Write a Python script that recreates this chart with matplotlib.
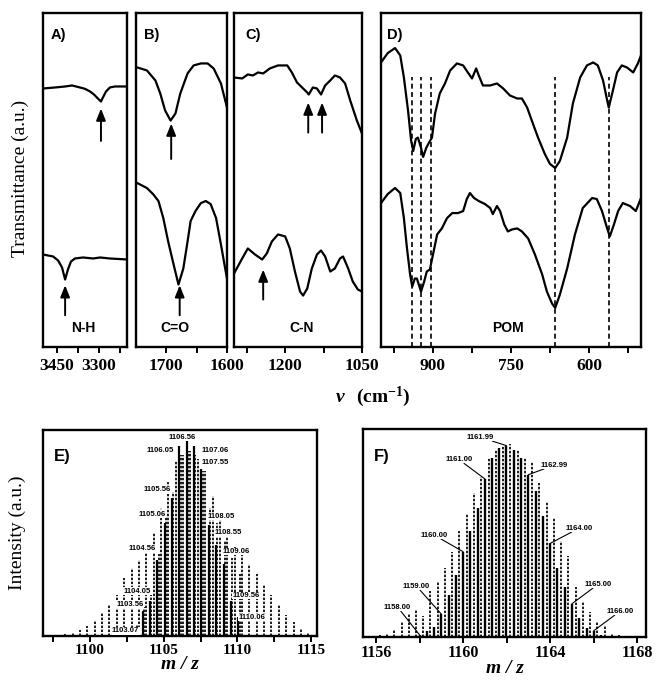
import matplotlib
matplotlib.use('Agg')
import matplotlib.pyplot as plt

plt.rcParams['mathtext.fontset'] = 'custom'
plt.rcParams['mathtext.rm'] = 'Liberation Serif:bold'
plt.rcParams['mathtext.it'] = 'Liberation Serif:italic:bold'

SERIF = 'Liberation Serif'
SANS = 'Liberation Sans'

# ---------------- IR spectra (wavenumber, transmittance a.u.) ----------------
a_wn_top = [3500, 3457, 3421, 3396, 3368, 3350, 3332, 3318, 3304, 3293, 3286, 3275, 3261, 3243, 3200]
a_t_top = [77.4, 77.7, 78.0, 78.3, 77.7, 77.3, 76.5, 75.6, 74.4, 73.5, 74.7, 76.5, 77.7, 78.0, 78.0]
a_wn_bot = [3500, 3464, 3446, 3432, 3421, 3411, 3400, 3386, 3357, 3321, 3296, 3261, 3200]
a_t_bot = [27.7, 27.1, 25.9, 23.8, 20.2, 23.2, 25.6, 26.5, 26.8, 26.5, 26.8, 26.5, 26.2]

b_wn_top = [1748, 1732, 1718, 1710, 1702, 1693, 1685, 1677, 1665, 1655, 1643, 1632, 1622, 1610, 1600]
b_t_top = [83.7, 82.8, 79.8, 75.9, 70.8, 67.8, 69.9, 75.9, 81.9, 84.3, 84.9, 84.9, 83.4, 78.9, 71.7]
b_wn_bot = [1748, 1732, 1722, 1713, 1705, 1697, 1688, 1680, 1672, 1665, 1660, 1652, 1643, 1635,
            1627, 1618, 1610, 1603, 1600]
b_t_bot = [49.1, 47.6, 45.8, 43.7, 38.6, 31.6, 24.7, 18.7, 23.5, 31.6, 37.7, 40.7, 43.1, 43.7,
           42.8, 38.6, 30.7, 23.5, 20.5]

c_wn_top = [1300, 1284, 1273, 1263, 1253, 1243, 1230, 1214, 1196, 1187, 1177, 1167, 1157, 1154,
            1146, 1138, 1130, 1122, 1112, 1103, 1093, 1083, 1073, 1060, 1050]
c_t_top = [80.7, 80.4, 81.6, 81.3, 82.2, 81.9, 83.4, 84.3, 84.3, 82.2, 79.2, 77.7, 76.2, 75.6,
           77.7, 77.4, 75.6, 78.3, 79.8, 81.3, 80.7, 78.9, 73.8, 67.8, 63.9]
c_wn_bot = [1300, 1284, 1273, 1259, 1245, 1236, 1226, 1214, 1200, 1191, 1181, 1171, 1165, 1157,
            1148, 1138, 1130, 1122, 1112, 1103, 1093, 1087, 1077, 1068, 1058, 1050]
c_t_bot = [22.0, 26.5, 29.5, 27.7, 26.2, 28.0, 31.6, 33.7, 33.1, 29.5, 22.6, 16.6, 15.4, 17.5,
           23.5, 27.7, 28.9, 27.1, 22.6, 23.5, 26.5, 27.1, 23.5, 19.6, 17.2, 16.6]

d_wn_top = [1000, 987, 973, 963, 956, 948, 942, 938, 933, 929, 923, 919, 913, 908, 902, 896, 887,
            877, 867, 854, 842, 833, 825, 817, 812, 804, 790, 777, 765, 752, 738, 729, 719, 710,
            698, 685, 675, 665, 656, 642, 631, 617, 604, 592, 583, 573, 565, 562, 554, 546, 537,
            527, 515, 506, 500]
d_t_top = [85.2, 88.0, 89.5, 87.3, 80.7, 70.8, 61.7, 58.7, 62.3, 62.7, 59.6, 56.9, 59.6, 61.1,
           62.7, 69.9, 75.9, 78.9, 82.8, 84.9, 84.3, 82.2, 80.4, 83.4, 81.3, 78.3, 78.3, 78.9,
           77.4, 75.3, 74.4, 74.4, 71.7, 67.8, 62.7, 57.8, 54.8, 53.6, 55.7, 62.7, 72.9, 80.7,
           84.3, 85.2, 84.3, 79.8, 73.8, 71.7, 76.8, 82.2, 84.3, 83.7, 82.2, 84.9, 87.3]
d_wn_bot = [1000, 987, 973, 963, 956, 950, 944, 940, 935, 931, 923, 917, 912, 906, 900, 892, 883,
            873, 863, 852, 842, 835, 829, 821, 812, 800, 790, 785, 777, 771, 763, 756, 748, 738,
            729, 717, 704, 690, 681, 671, 665, 656, 642, 627, 612, 594, 585, 575, 565, 560, 552,
            544, 535, 521, 510, 500]
d_t_bot = [43.1, 45.8, 47.6, 46.1, 38.6, 29.5, 21.7, 18.1, 20.5, 20.5, 16.6, 19.6, 22.6, 23.2,
           27.7, 33.7, 35.5, 38.6, 40.1, 40.1, 40.7, 44.3, 46.1, 44.6, 43.7, 42.8, 41.6, 39.8,
           42.2, 40.7, 36.7, 34.6, 35.2, 35.5, 34.6, 32.5, 27.7, 21.7, 16.6, 13.0, 11.7, 15.7,
           23.5, 33.7, 41.6, 44.6, 44.3, 40.7, 35.5, 33.1, 36.7, 40.7, 43.1, 42.2, 40.7, 44.6]
d_band_wn = [941, 923, 904, 665, 562]

# arrows: (wavenumber, tail, tip)
a_arrows = [(3293, 61.7, 71.4), (3421, 9.5, 18.5)]
b_arrows = [(1692, 56.3, 66.9), (1678, 9.5, 18.5)]
c_arrows = [(1155, 64.2, 73.2), (1128, 64.2, 73.2), (1243, 14.2, 23.2)]

# ---------------- ESI-MS (m/z, intensity %) ----------------
e_solid_mz = [1103.07, 1103.56, 1104.05, 1104.56, 1105.06, 1105.56, 1106.05, 1106.56, 1107.06,
              1107.55, 1108.05, 1108.55, 1109.06, 1109.56, 1110.06]
e_solid_int = [4.5, 12, 17, 37, 55, 67, 92, 95, 92, 81, 54, 44, 35, 17, 9]
e_dash_mz = [1097.81, 1098.31, 1098.81, 1099.31, 1099.81, 1100.31, 1100.81, 1101.31, 1101.81,
             1102.31, 1102.81, 1103.31, 1103.81, 1104.31, 1104.81, 1105.31, 1105.81, 1106.31,
             1106.81, 1107.31, 1107.81, 1108.31, 1108.81, 1109.31, 1109.81, 1110.31, 1110.81,
             1111.31, 1111.81, 1112.31, 1112.81, 1113.31, 1113.81, 1114.31, 1114.81]
e_dash_int = [0.5, 1, 1.5, 3, 5, 8, 11, 15, 20, 28, 33, 37, 42, 50, 62, 75, 85, 88, 90, 86, 80,
              68, 58, 50, 43, 40, 35, 30, 25, 20, 15, 10, 7, 4, 1.5]
e_near_mz = [1103.16, 1103.65, 1104.14, 1104.65, 1105.15, 1105.65, 1106.14, 1106.65, 1107.15,
             1107.64, 1108.14, 1108.64, 1109.15, 1109.65, 1110.15]
e_near_int = [6, 14, 20, 40, 58, 70, 88, 90, 88, 80, 62, 55, 46, 38, 30]

f_solid_mz = [1157.67, 1158.00, 1158.33, 1158.67, 1159.00, 1159.33, 1159.67, 1160.00, 1160.33,
              1160.67, 1161.00, 1161.33, 1161.67, 1161.99, 1162.33, 1162.67, 1162.99, 1163.33,
              1163.67, 1164.00, 1164.33, 1164.67, 1165.00, 1165.33, 1165.67, 1166.00, 1166.33,
              1166.67]
f_solid_int = [0.5, 1, 3, 5, 11, 20, 30, 41, 51, 62, 76, 86, 91, 92, 90, 86, 78, 70, 58, 45, 33,
               24, 16, 9, 4.5, 3, 1, 0.5]
f_dash_mz = [1155.83, 1156.17, 1156.50, 1156.83, 1157.17, 1157.50, 1157.83, 1158.17, 1158.50,
             1158.83, 1159.17, 1159.50, 1159.83, 1160.17, 1160.50, 1160.83, 1161.17, 1161.50,
             1161.83, 1162.17, 1162.50, 1162.83, 1163.17, 1163.50, 1163.83, 1164.17, 1164.50,
             1164.83, 1165.17, 1165.50, 1165.83, 1166.17, 1166.50, 1166.83, 1167.17]
f_dash_int = [0.5, 1, 1.5, 4, 7, 11, 13.5, 10, 22, 27, 33, 41, 51, 59, 69, 77, 86, 90, 92, 93, 90,
              86, 84, 74, 65, 57, 46, 39, 24, 17, 12, 7, 6, 2, 1]
f_label_mz = [1158.00, 1159.00, 1160.00, 1161.00, 1161.99, 1162.99, 1164.00, 1165.00, 1166.00]

fig = plt.figure(figsize=(6.58, 6.80), dpi=100)


def px_axes(x0, x1, y0, y1):
    return fig.add_axes([x0 / 658, 1 - y1 / 680, (x1 - x0) / 658, (y1 - y0) / 680])


def frame(ax, pad=2):
    for s in ax.spines.values():
        s.set_linewidth(1.7)
    ax.set_yticks([])
    ax.tick_params(axis='x', direction='out', length=4, width=1.4, pad=pad)


def ir_panel(ax, xlim, ticks, labels, curves, tag, band, band_x, arrows):
    for wn, t in curves:
        ax.plot(wn, t, color='k', lw=1.6, solid_joinstyle='round')
    for wn, y0, y1 in arrows:
        ax.annotate('', xy=(wn, y1), xytext=(wn, y0),
                    arrowprops=dict(arrowstyle='-|>,head_length=0.7,head_width=0.28',
                                    lw=1.4, color='k', shrinkA=0, shrinkB=0))
    ax.set_xlim(*xlim)
    ax.set_ylim(0, 100)
    frame(ax, pad=4)
    ax.set_xticks(ticks)
    ax.set_xticklabels(labels, fontfamily=SERIF, fontweight='bold', fontsize=12.5)
    ax.text(0.09, 0.935, tag, transform=ax.transAxes, fontfamily=SANS, fontweight='bold',
            fontsize=10.5, va='center')
    ax.text(band_x, 0.058, band, transform=ax.transAxes, fontfamily=SANS, fontweight='bold',
            fontsize=10, ha='center', va='center')


axA = px_axes(43, 127, 13, 347)
ir_panel(axA, (3500, 3200), [3450, 3375, 3300, 3225], ['3450', '', '3300', ''],
         [(a_wn_top, a_t_top), (a_wn_bot, a_t_bot)], 'A)', 'N-H', 0.48, a_arrows)
axB = px_axes(136, 227, 13, 347)
ir_panel(axB, (1750, 1600), [1700, 1650, 1600], ['1700', '', '1600'],
         [(b_wn_top, b_t_top), (b_wn_bot, b_t_bot)], 'B)', 'C=O', 0.43, b_arrows)
axC = px_axes(234, 362, 13, 347)
ir_panel(axC, (1300, 1050), [1275, 1200, 1125, 1050], ['', '1200', '', '1050'],
         [(c_wn_top, c_t_top), (c_wn_bot, c_t_bot)], 'C)', 'C-N', 0.53, c_arrows)
axD = px_axes(381, 641, 13, 347)
axD.vlines(d_band_wn, 0, 80.7, colors='k', linestyles=(0, (3, 2)), lw=1.2)
ir_panel(axD, (1000, 500), [975, 900, 825, 750, 675, 600, 525],
         ['', '900', '', '750', '', '600', ''],
         [(d_wn_top, d_t_top), (d_wn_bot, d_t_bot)], 'D)', 'POM', 0.49, [])
axD.texts[0].set_x(0.025)

fig.text(20 / 658, 1 - 178 / 680, 'Transmittance (a.u.)', rotation=90, fontfamily=SERIF,
         fontsize=14, ha='center', va='center')
fig.text(340 / 658, 1 - 397 / 680, 'ν', fontfamily=SERIF, fontweight='bold', style='italic',
         fontsize=14, ha='center', va='center')
fig.text(356 / 658, 1 - 397 / 680, '(cm$^{-1}$)', fontfamily=SERIF, fontweight='bold',
         fontsize=14, ha='left', va='center')


def ms_panel(ax, xlim, ticks, labels, tag, fs):
    ax.set_xlim(*xlim)
    ax.set_ylim(0, 100)
    frame(ax)
    ax.set_xticks(ticks)
    ax.set_xticklabels(labels, fontfamily=SERIF, fontweight='bold', fontsize=fs)
    ax.set_xlabel('m / z', fontfamily=SERIF, fontweight='bold', style='italic', fontsize=14,
                  labelpad=-1)
    ax.text(0.04, 0.87, tag, transform=ax.transAxes, fontfamily=SANS, fontweight='bold',
            fontsize=12, va='center')


dash = (0, (1.4, 0.9))
lab_kw = dict(fontfamily=SANS, fontweight='bold', fontsize=5.5, va='center', zorder=5,
              bbox=dict(fc='white', ec='none', pad=0.3))

axE = px_axes(43, 317, 430, 636)
axE.vlines(e_dash_mz, 0, e_dash_int, colors='k', linestyles=dash, lw=1.25)
axE.vlines(e_near_mz, 0, e_near_int, colors='k', linestyles=dash, lw=1.25)
axE.vlines(e_solid_mz, 0, e_solid_int, colors='k', lw=1.6)
ms_panel(axE, (1096.8, 1115.4), [1097.5, 1100, 1102.5, 1105, 1107.5, 1110, 1112.5, 1115],
         ['', '1100', '', '1105', '', '1110', '', '1115'], 'E)', 11)
# label offsets (points) from bar tops
e_off = [(-7, -3), (-9, 5), (-9, 7), (-11, 8), (-9, 6), (-11, 6), (-14, -3), (-3, 2),
         (15, -3), (10, 5), (9, 6), (9, 9), (9, 9), (11, 4), (10, 0)]
for m, h, (dx, dy) in zip(e_solid_mz, e_solid_int, e_off):
    axE.annotate('%.2f' % m, xy=(m, h), xytext=(dx, dy), textcoords='offset points',
                 ha='center', **lab_kw)

axF = px_axes(363, 646, 429, 637)
axF.vlines(f_dash_mz, 0, f_dash_int, colors='k', linestyles=dash, lw=1.25)
axF.vlines(f_solid_mz, 0, f_solid_int, colors='k', lw=1.7)
ms_panel(axF, (1155.4, 1168.4), [1156, 1158, 1160, 1162, 1164, 1166, 1168],
         ['1156', '', '1160', '', '1164', '', '1168'], 'F)', 11.5)
f_off = [(-6, 20), (-8, 20), (-11, 12), (-9, 14), (-9, 6), (9, 7), (11, 11), (9, 14), (9, 14)]
for m, (dx, dy) in zip(f_label_mz, f_off):
    h = f_solid_int[min(range(len(f_solid_mz)), key=lambda i: abs(f_solid_mz[i] - m))]
    axF.annotate('%.2f' % m, xy=(m, h), xytext=(dx, dy), textcoords='offset points',
                 ha='right' if dx < 0 else 'left',
                 arrowprops=dict(arrowstyle='-', lw=0.8, color='k', shrinkA=0, shrinkB=0),
                 **lab_kw)

fig.text(17 / 658, 1 - 533 / 680, 'Intensity (a.u.)', rotation=90, fontfamily=SERIF,
         fontsize=14, ha='center', va='center')

fig.savefig('out.png', dpi=100)
